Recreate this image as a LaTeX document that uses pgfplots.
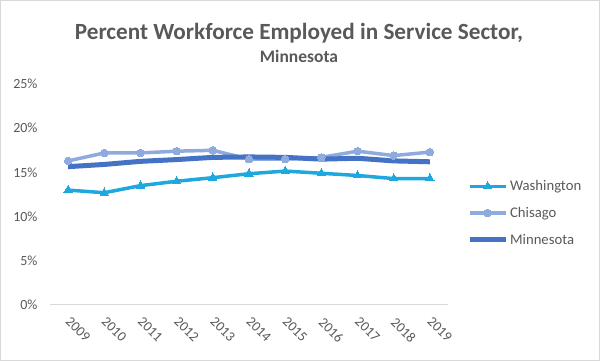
\documentclass[border=0pt]{standalone}
\usepackage{fontspec}
\setmainfont{Carlito}
\usepackage{pgfplots}
\pgfplotsset{compat=1.18}
\definecolor{wash}{RGB}{31,168,222}
\definecolor{chis}{RGB}{143,170,220}
\definecolor{minn}{RGB}{68,114,196}
\definecolor{txt}{RGB}{89,89,89}
\definecolor{axl}{RGB}{217,217,217}
\begin{document}
\begin{tikzpicture}[x=1pt,y=1pt]
\path[use as bounding box] (0,0) rectangle (600,361);
\draw[axl, line width=1pt] (0.5,0.5) rectangle (599.5,360.5);
\node[txt, font=\fontsize{23.2}{26}\selectfont\bfseries] at (299,328) {Percent Workforce Employed in Service Sector,};
\node[txt, font=\fontsize{17.5}{20}\selectfont\bfseries] at (299,305) {Minnesota};
\begin{axis}[
  at={(50pt,56pt)}, anchor=south west,
  scale only axis, width=398pt, height=221pt,
  xmin=-0.5, xmax=10.5, ymin=0, ymax=25,
  xtick={0,...,10},
  xticklabels={2009,2010,2011,2012,2013,2014,2015,2016,2017,2018,2019},
  ytick={0,5,10,15,20,25},
  yticklabel={\pgfmathprintnumber{\tick}\%},
  /pgf/number format/assume math mode=true,
  axis x line*=bottom, axis y line*=left,
  x axis line style={axl, line width=1pt, -},
  y axis line style={draw=none},
  major tick length=0pt,
  tick style={draw=none},
  ticklabel style={txt, font=\fontsize{14}{16}\selectfont},
  xticklabel style={rotate=-45, anchor=north west, xshift=6.7pt, yshift=-2.3pt},
  yticklabel style={xshift=-9pt},
  clip=false,
  legend style={draw=none, fill=none, at={(1.04,0.416)}, anchor=west,
    font=\fontsize{14.7}{16}\selectfont\color{txt}, row sep=11pt,
    legend cell align=left},
  legend image code/.code={\draw[#1] (0pt,0pt) -- (36pt,0pt); \draw[#1, only marks] plot coordinates {(18pt,0pt)};},
]
\addplot[color=wash, line width=3.5pt, mark=triangle*, mark size=4.8pt, mark options={line width=0pt}] coordinates {
(0,13.0) (1,12.7) (2,13.5) (3,14.0) (4,14.4) (5,14.85) (6,15.15) (7,14.9) (8,14.65) (9,14.3) (10,14.3)};
\addlegendentry{Washington}
\addplot[color=chis, line width=3.5pt, mark=*, mark size=3.8pt, mark options={line width=0pt}] coordinates {
(0,16.3) (1,17.2) (2,17.2) (3,17.4) (4,17.5) (5,16.5) (6,16.5) (7,16.7) (8,17.4) (9,16.9) (10,17.3)};
\addlegendentry{Chisago}
\addplot[color=minn, line width=5pt, mark=none] coordinates {
(0,15.65) (1,15.9) (2,16.25) (3,16.45) (4,16.7) (5,16.75) (6,16.7) (7,16.5) (8,16.6) (9,16.3) (10,16.2)};
\addlegendentry{Minnesota}
\end{axis}
\end{tikzpicture}
\end{document}
